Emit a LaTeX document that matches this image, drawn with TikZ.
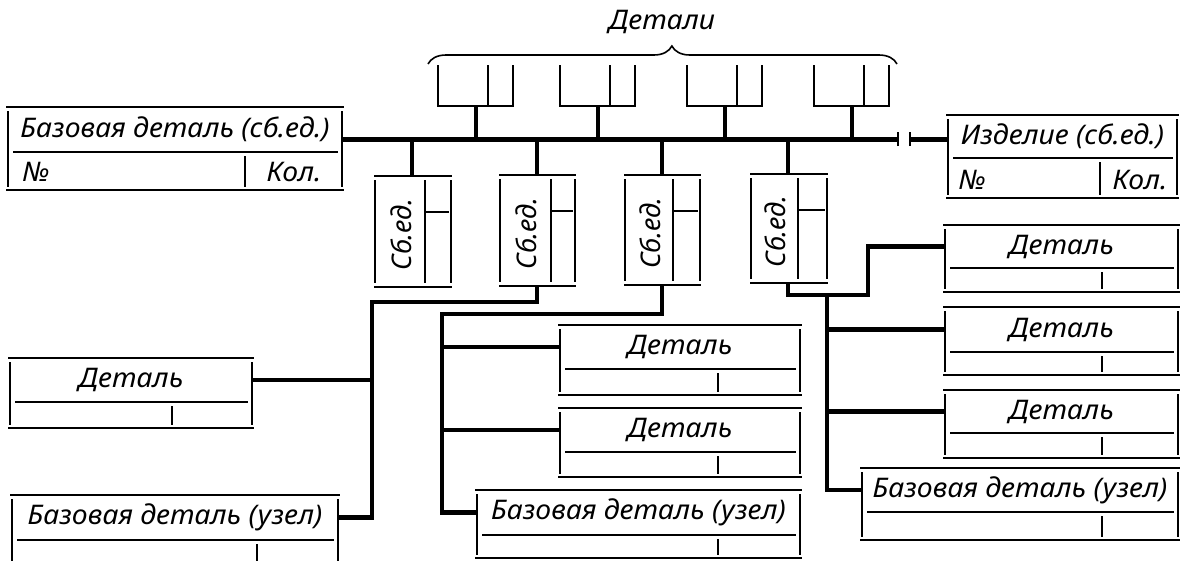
\documentclass[tikz,border=0pt]{standalone}
\usepackage{fontspec}
\setmainfont{Noto Sans}
\usetikzlibrary{decorations.pathreplacing}

% form: #1 name, #2 left, #3 top, #4 right, #5 bottom, #6 divider, #7 tick x, #8 text
\newcommand{\formbox}[8]{%
  \draw[fl] (#2-2,#3) -- (#4+2,#3);
  \draw[fl] (#2-2,#5) -- (#4+2,#5);
  \draw[fl] (#2,#3+4) -- (#2,#5-3);
  \draw[fl] (#4,#3+4) -- (#4,#5-3);
  \draw[fl] (#2+5,#6) -- (#4-4,#6);
  \draw[fl] (#7,#6+4) -- (#7,#5-3);
  \coordinate (#1-w) at (#2,{(#3+#6)/2});
  \coordinate (#1-e) at (#4,{(#3+#6)/2});
  \node[lbl] (#1-txt) at ({(#2+#4)/2},{(#3+#6)/2}) {#8};
}
% assembly unit: #1 name, #2 left, #3 inner, #4 right, #5 top, #6 bottom
\newcommand{\unitform}[6]{%
  \draw[fl] (#2-1,#5) -- (#4+1,#5);
  \draw[fl] (#2-1,#6) -- (#4+1,#6);
  \draw[fl] (#2,#5+4) -- (#2,#6-4);
  \draw[fl] (#4,#5+4) -- (#4,#6-4);
  \draw[fl] (#3,#5+4) -- (#3,#6-4);
  \draw[fl] (#3,#5+36) -- (#4-2,#5+36);
  \coordinate (#1-n) at (#2+37,#5);
  \coordinate (#1-s) at (#2+37,#6);
  \node[unitlbl] (#1-txt) at ({(#2+#3)/2+1},{(#5+#6)/2+3}) {Сб.ед.};
}
% group of details: #1 name, #2 left
\newcommand{\detgroup}[2]{%
  \draw[fl] (#2,65) -- (#2,106) -- (#2+75,106) -- (#2+75,65);
  \draw[fl] (#2+50,65) -- (#2+50,106);
  \coordinate (#1-s) at (#2+38,106);
}

\begin{document}
\begin{tikzpicture}[x=1pt,y=-1pt,
  fl/.style={line width=1.6pt},
  link/.style={line width=4.5pt},
  bus/.style={line width=5pt},
  lbl/.style={font=\fontsize{27}{30}\selectfont\itshape,inner sep=0pt,xscale=1.05},
  unitlbl/.style={font=\fontsize{27}{30}\selectfont\itshape,inner sep=0pt,rotate=90}]
\clip (0,0) rectangle (1189,560);
\fill[white] (0,0) rectangle (1189,560);

% details above the bus
\detgroup{g1}{438}
\detgroup{g2}{560}
\detgroup{g3}{687}
\detgroup{g4}{814}
\draw[fl,decorate,decoration={brace,amplitude=18pt,aspect=0.52}] (428,64) -- (897,64);
\node[lbl] (det) at (662,22) {Детали};

% base part and product
\formbox{tl}{8}{107}{342}{190}{152}{245}{Базовая деталь (сб.ед.)}
\node[lbl] (tl-no) at (36,172) {№};
\node[lbl] (tl-kol) at (294,172) {Кол.};
\formbox{izd}{948}{115}{1177}{198}{158}{1100}{Изделие (сб.ед.)}
\node[lbl] (izd-no) at (972,180) {№};
\node[lbl] (izd-kol) at (1140,180) {Кол.};

% assembly units
\unitform{s1}{375}{425}{451}{176}{287}
\unitform{s2}{500}{551}{575}{175}{286}
\unitform{s3}{625}{673}{700}{175}{285}
\unitform{s4}{751}{798}{827}{174}{283}

% lower forms
\formbox{l1}{10}{358}{252}{428}{402}{172}{Деталь}
\formbox{l2}{12}{495}{338}{580}{540}{257}{Базовая деталь (узел)}
\formbox{m1}{560}{325}{800}{395}{369}{718}{Деталь}
\formbox{m2}{560}{408}{800}{477}{452}{718}{Деталь}
\formbox{m3}{477}{490}{800}{558}{535}{718}{Базовая деталь (узел)}
\formbox{r1}{945}{225}{1178}{292}{268}{1102}{Деталь}
\formbox{r2}{945}{307}{1178}{375}{352}{1102}{Деталь}
\formbox{r3}{945}{390}{1178}{458}{433}{1102}{Деталь}
\formbox{r4}{862}{468}{1178}{540}{512}{1102}{Базовая деталь (узел)}

% bus
\coordinate (bus-w) at (342,139);
\coordinate (bus-e) at (898,139);
\coordinate (brk) at (910,139);
\coordinate (izd-in) at (948,139);
\draw[bus] (bus-w) -- (bus-e);
\draw[bus] (brk) -- (izd-in);
\draw[line width=2pt] ([yshift=-7]bus-e) -- ([yshift=7]bus-e);
\draw[line width=2pt] ([yshift=-7]brk) -- ([yshift=7]brk);
\foreach \g in {g1,g2,g3,g4}
  \draw[link] (\g-s) -- (\g-s |- bus-w);
\foreach \s in {s1,s2,s3,s4}
  \draw[link] (\s-n |- bus-w) -- (\s-n);

% links below
\coordinate (j1) at (372,302);
\coordinate (j2) at (442,314);
\coordinate (j3) at (868,295);
\coordinate (j4) at (827,295);
\draw[link] (s2-s) |- (j1) |- (l2-e);
\draw[link] (l1-e) -- (l1-e -| j1);
\draw[link] (s3-s) |- (j2) |- (m3-w);
\draw[link] (m1-w) -- (m1-w -| j2);
\draw[link] (m2-w) -- (m2-w -| j2);
\draw[link] (s4-s) |- (j3) |- (r1-w);
\draw[link] (j4) |- (r4-w);
\draw[link] (r2-w) -- (r2-w -| j4);
\draw[link] (r3-w) -- (r3-w -| j4);
\end{tikzpicture}
\end{document}
